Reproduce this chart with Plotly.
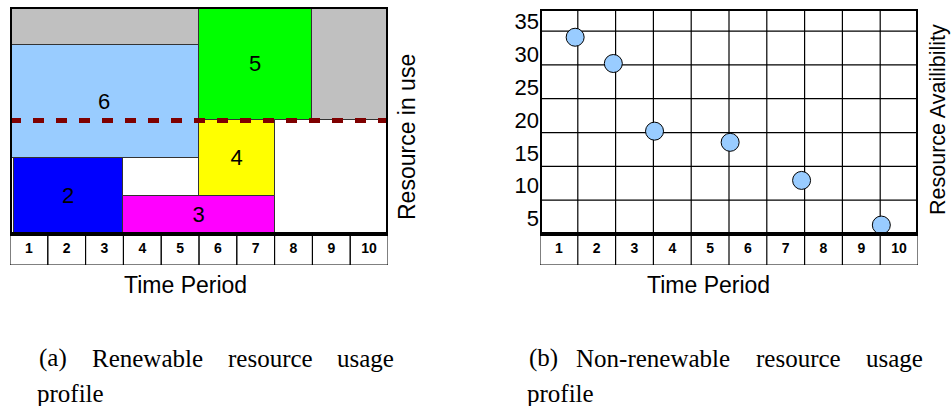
import plotly.graph_objects as go

# ---------------- data ----------------
periods = ["1", "2", "3", "4", "5", "6", "7", "8", "9", "10"]

# (a) renewable resource usage blocks
block_labels = ["", "", "6", "5", "4", "2", "3"]
block_start = [0, 8, 0, 5, 5, 0.1, 3]
block_end = [5, 10, 5, 8, 7, 3, 7]
block_bottom = [5, 3, 2, 3, 1, 0, 0]
block_top = [6, 6, 5, 6, 3, 2, 1]
block_colors = ["#C0C0C0", "#C0C0C0", "#99CCFF", "#00FF00", "#FFFF00", "#0000FF", "#FF00FF"]
capacity = 3
usage_max = 6

# (b) non-renewable resource availability
avail_time = [0.93, 1.94, 3.03, 5.03, 6.92, 9.03]
avail_value = [32.6, 28.6, 18.3, 16.6, 10.8, 4.0]
avail_ticks = [5, 10, 15, 20, 25, 30, 35]

# ---------------- layout constants ----------------
W, H = 951, 406
SANS = "Liberation Sans, Arial, sans-serif"
SERIF = "Liberation Serif, Times New Roman, serif"

def px_x(p):
    return min(1.0, max(0.0, p / W))

def px_y(p):
    return min(1.0, max(0.0, 1 - p / H))

n = len(periods)
left_row_h = 0.82              # height of period-cell row (units of left y)
r_bottom, r_top = 2.64, 36.9   # main area of right chart
r_row_bottom = -2.08
grid_step = 5.15

fig = go.Figure()

# left blocks as bars
fig.add_trace(go.Bar(
    x=[(s + e) / 2 for s, e in zip(block_start, block_end)],
    width=[e - s for s, e in zip(block_start, block_end)],
    base=block_bottom,
    y=[t - b for t, b in zip(block_top, block_bottom)],
    marker=dict(color=block_colors, line=dict(color="#333333", width=1)),
    text=block_labels, textposition="inside", insidetextanchor="middle",
    textangle=0, constraintext="none",
    insidetextfont=dict(family=SANS, size=22, color="black"),
    xaxis="x", yaxis="y", showlegend=False, hoverinfo="skip",
))

# left period labels
fig.add_trace(go.Scatter(
    x=[i + 0.5 for i in range(n)], y=[-left_row_h / 2] * n,
    mode="text", text=periods,
    textfont=dict(family=SANS, size=14, color="black", weight="bold"),
    xaxis="x", yaxis="y", showlegend=False, hoverinfo="skip",
))

# right availability points
fig.add_trace(go.Scatter(
    x=avail_time, y=avail_value, mode="markers",
    marker=dict(size=18, color="#99CCFF", line=dict(color="black", width=1)),
    xaxis="x2", yaxis="y2", showlegend=False, cliponaxis=False,
))

# right period labels
fig.add_trace(go.Scatter(
    x=[i + 0.5 for i in range(n)], y=[(r_row_bottom + r_bottom) / 2] * n,
    mode="text", text=periods,
    textfont=dict(family=SANS, size=14, color="black", weight="bold"),
    xaxis="x2", yaxis="y2", showlegend=False, hoverinfo="skip",
))

shapes = []
# left period cells
for i in range(n):
    shapes.append(dict(type="rect", xref="x", yref="y", x0=i, x1=i + 1,
                       y0=-left_row_h, y1=0, line=dict(color="black", width=1)))
# capacity dashed line
shapes.append(dict(type="line", xref="x", yref="y", x0=0, x1=n, y0=capacity, y1=capacity,
                   line=dict(color="#7F0000", width=5, dash="11px,12px"), layer="above"))
# left thick frame
shapes.append(dict(type="rect", xref="x", yref="y", x0=0, x1=n, y0=0, y1=usage_max,
                   line=dict(color="black", width=4), layer="above"))

# right grid: vertical lines through cells
for i in range(1, n):
    shapes.append(dict(type="line", xref="x2", yref="y2", x0=i, x1=i,
                       y0=r_row_bottom, y1=r_top, line=dict(color="black", width=1.2),
                       layer="below"))
for k in range(1, 7):
    yv = r_bottom + k * grid_step
    shapes.append(dict(type="line", xref="x2", yref="y2", x0=0, x1=n, y0=yv, y1=yv,
                       line=dict(color="black", width=1.2), layer="below"))
shapes.append(dict(type="rect", xref="x2", yref="y2", x0=0, x1=n, y0=r_row_bottom, y1=r_bottom,
                   line=dict(color="black", width=1), layer="below"))
shapes.append(dict(type="rect", xref="x2", yref="y2", x0=0, x1=n, y0=r_bottom, y1=r_top,
                   line=dict(color="black", width=4), layer="above"))

def ann(text, cx, cy, size, family=SANS, angle=0):
    return dict(text=text, x=px_x(cx), y=px_y(cy), xref="paper", yref="paper",
                showarrow=False, xanchor="center", yanchor="middle", textangle=angle,
                font=dict(family=family, size=size, color="black"))

annotations = [
    ann("Time Period", 185, 285, 23),
    ann("Time Period", 708, 285, 23),
    ann("Resource in use", 406.5, 137.5, 23, angle=-90),
    ann("Resource Availibility", 938, 120, 21.5, angle=-90),
]

# captions (justified words)
caption_words = [
    ("(a)", 52.5, 358), ("Renewable", 147, 358), ("resource", 270, 358), ("usage", 365, 358),
    ("profile", 70, 393),
    ("(b)", 543.5, 358), ("Non-renewable", 653, 358), ("resource", 798.5, 358), ("usage", 894.5, 358),
    ("profile", 560, 393),
]
for wtxt, cx, cy in caption_words:
    annotations.append(ann(wtxt, cx, cy, 25, family=SERIF))

hidden = dict(showgrid=False, zeroline=False, showticklabels=False, ticks="", showline=False,
              fixedrange=True)

fig.update_layout(
    width=W, height=H, margin=dict(l=0, r=0, t=0, b=0),
    paper_bgcolor="white", plot_bgcolor="white",
    barmode="overlay", bargap=0,
    shapes=shapes, annotations=annotations,
    xaxis=dict(domain=[px_x(10), px_x(388)], range=[0, n], anchor="y", **hidden),
    yaxis=dict(domain=[px_y(265), px_y(7)], range=[-left_row_h, usage_max], anchor="x", **hidden),
    xaxis2=dict(domain=[px_x(540), px_x(918)], range=[0, n], anchor="y2", **hidden),
    yaxis2=dict(domain=[px_y(265), px_y(9)], range=[r_row_bottom, r_top], anchor="x2",
                showgrid=False, zeroline=False, showline=False, ticks="",
                tickvals=avail_ticks, ticktext=[str(v) for v in avail_ticks],
                tickfont=dict(family=SANS, size=22, color="black"), fixedrange=True),
)

fig.write_html(
    "out.html",
    config={"displayModeBar": False},
    post_script="document.body.style.margin='0';document.body.style.overflow='hidden';",
)
